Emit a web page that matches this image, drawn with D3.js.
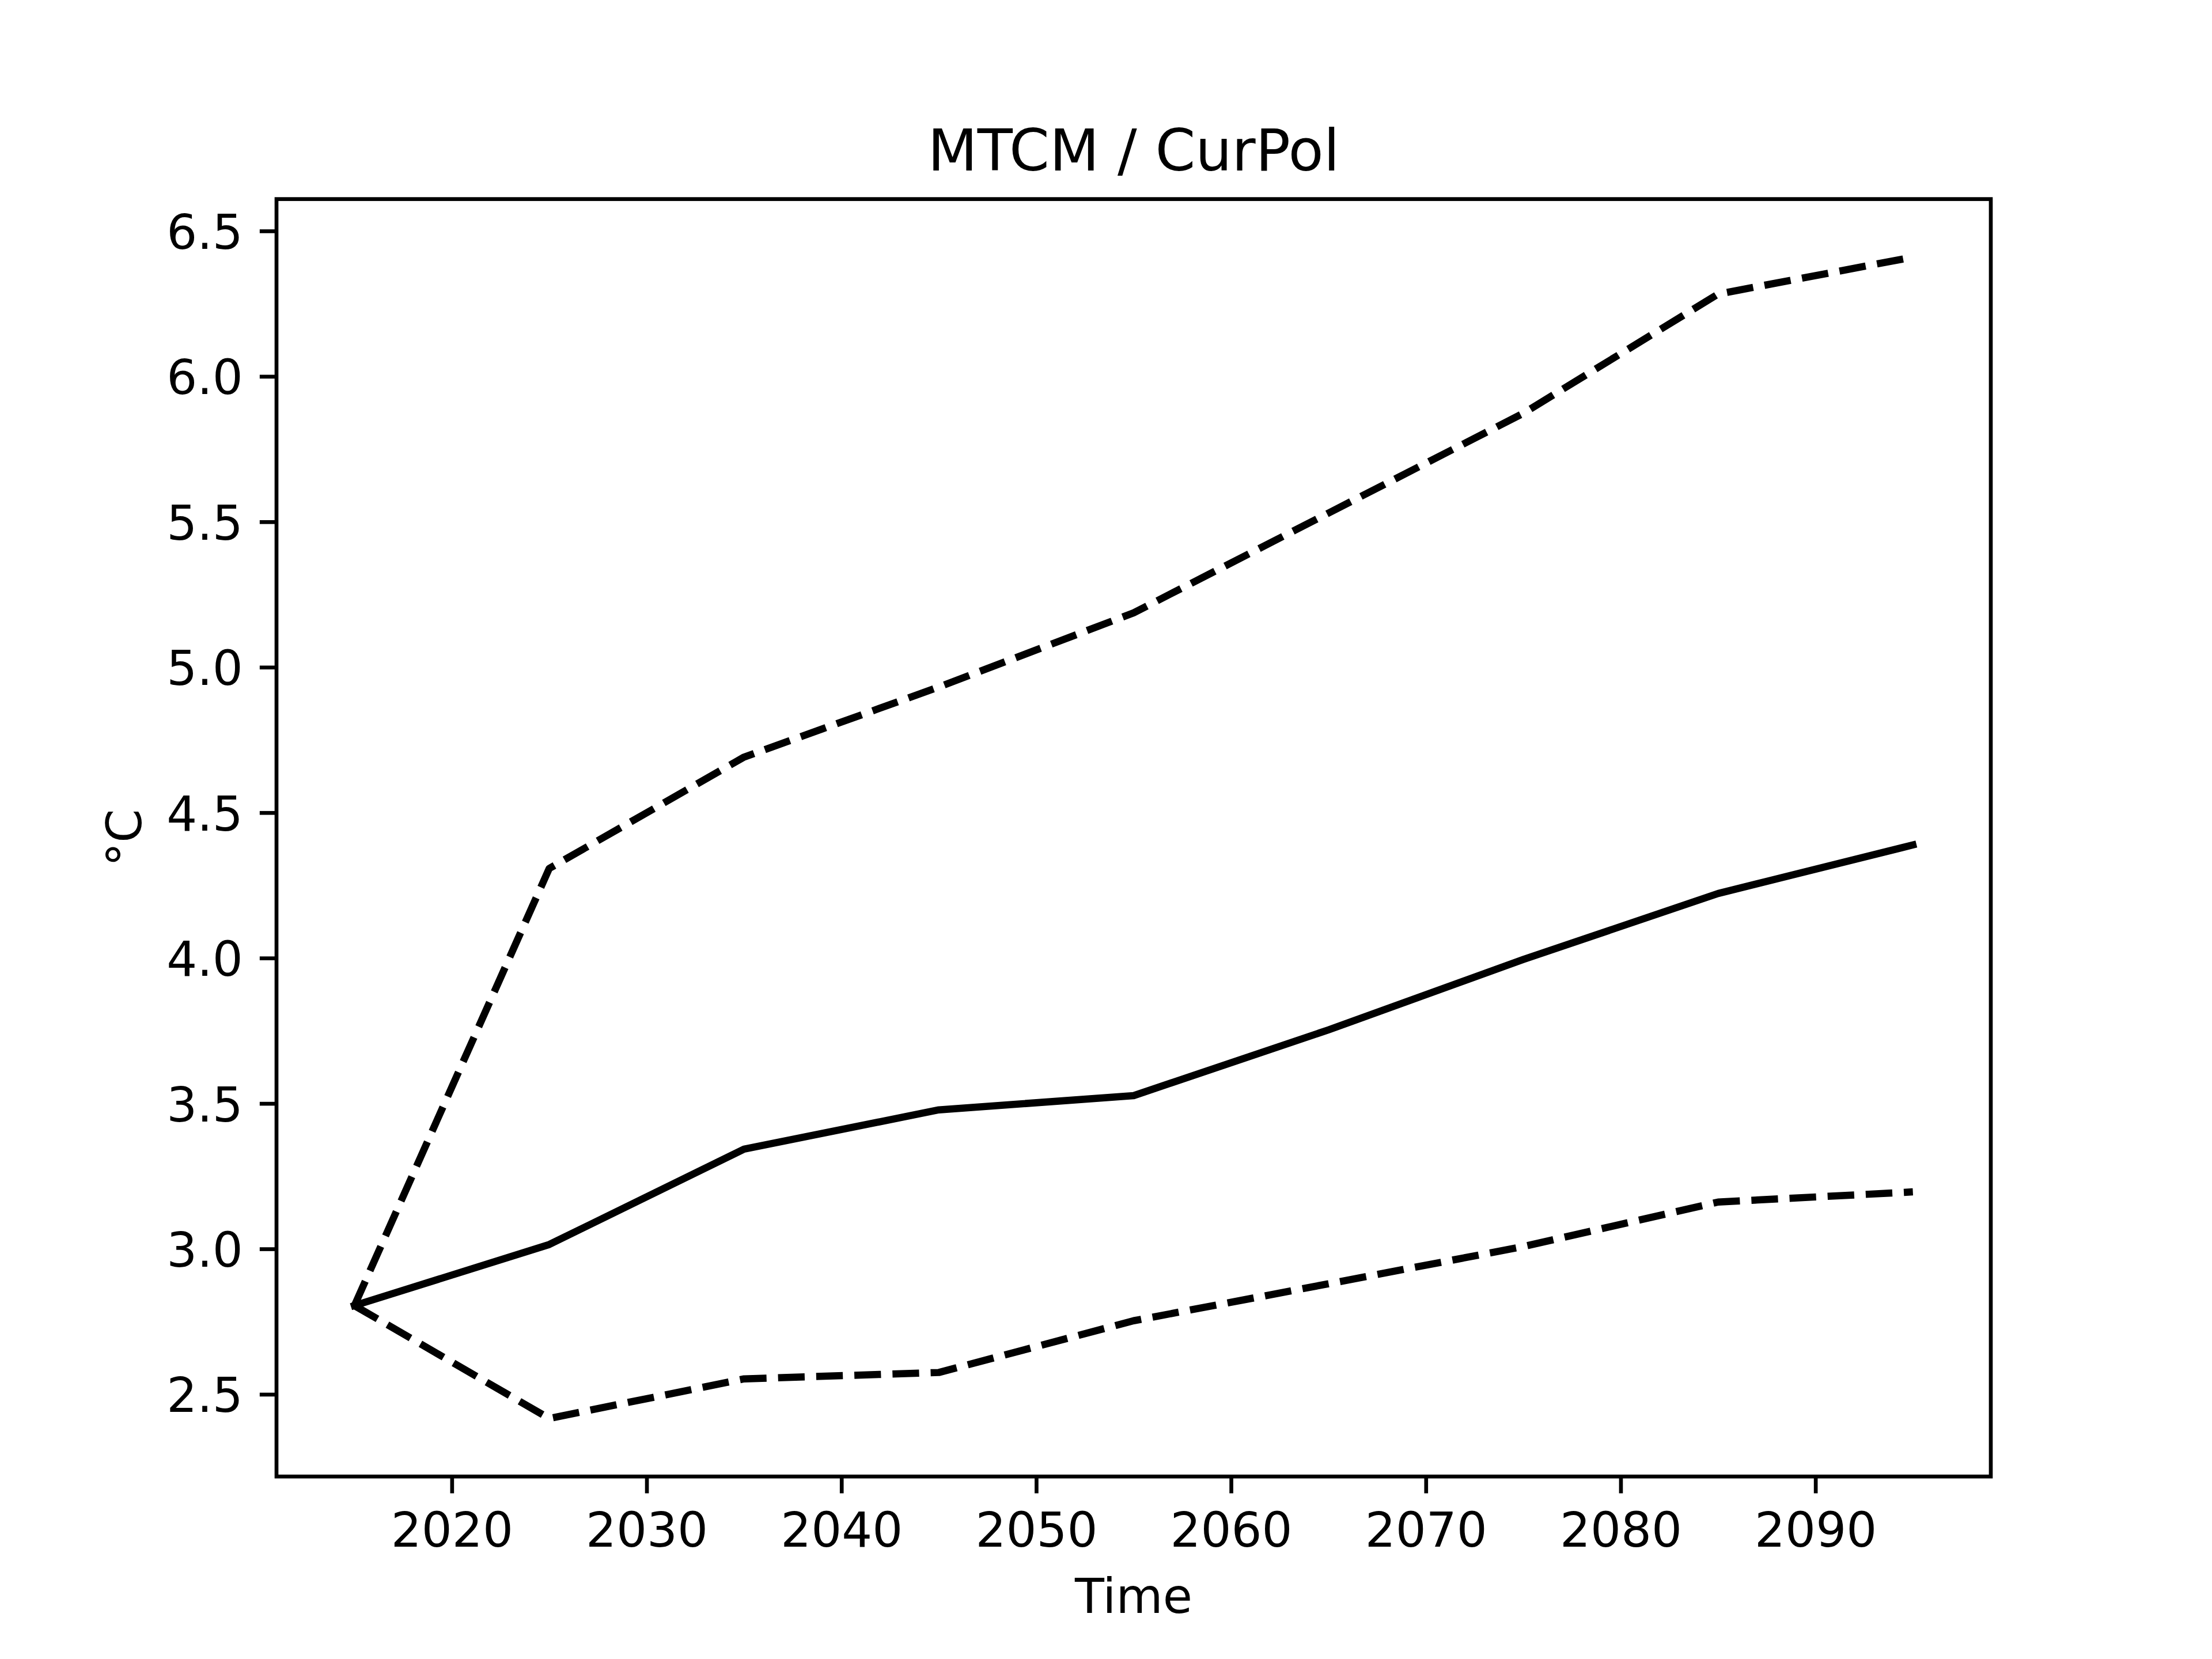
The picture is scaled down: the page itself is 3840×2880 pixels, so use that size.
<!DOCTYPE html>
<html>
<head>
<meta charset="utf-8">
<script src="https://cdn.jsdelivr.net/npm/d3@7"></script>
<style>
  html, body { margin: 0; padding: 0; background: #ffffff; }
  svg { display: block; }
  text { font-family: "DejaVu Sans", sans-serif; fill: #000; }
</style>
</head>
<body>
<svg id="chart" width="3840" height="2880"></svg>
<script>
// ---- data ----
const years = [2015, 2025, 2035, 2045, 2055, 2065, 2075, 2085, 2095];
const median = [2.805, 3.015, 3.343, 3.478, 3.527, 3.753, 3.995, 4.222, 4.389];
const upper  = [2.805, 4.308, 4.691, 4.932, 5.187, 5.530, 5.873, 6.283, 6.410];
const lower  = [2.805, 2.417, 2.553, 2.575, 2.753, 2.880, 3.008, 3.161, 3.196];
const xTicks = [2020, 2030, 2040, 2050, 2060, 2070, 2080, 2090];
const yTicks = [2.5, 3.0, 3.5, 4.0, 4.5, 5.0, 5.5, 6.0, 6.5];
const titleText = "MTCM / CurPol";
const xLabel = "Time";
const yLabel = "°C";

(function () {
// ---- layout (matplotlib default at 600 dpi) ----
const W = 3840, H = 2880;
const axLeft = 480, axRight = 3456, axTop = 345.6, axBottom = 2563.2;
const pt = 600 / 72;
const fontSize = 10 * pt;
const tickLen = 3.5 * pt;
const tickPad = 3.5 * pt;
const lw = 1.5 * pt;
const spineW = 0.8 * pt;

const svg = d3.select("#chart");
svg.append("rect").attr("x", 0).attr("y", 0).attr("width", W).attr("height", H).attr("fill", "#fff");

// scales with 5% margins (matplotlib autoscale)
const xmin = d3.min(years), xmax = d3.max(years);
const xpad = (xmax - xmin) * 0.05;
const all = median.concat(upper, lower);
const ymin = d3.min(all), ymax = d3.max(all);
const ypad = (ymax - ymin) * 0.05;
const x = d3.scaleLinear().domain([xmin - xpad, xmax + xpad]).range([axLeft, axRight]);
const y = d3.scaleLinear().domain([ymin - ypad, ymax + ypad]).range([axBottom, axTop]);

// lines
const line = d3.line().x((d, i) => x(years[i])).y(d => y(d));
const series = [
  { values: median, dash: null },
  { values: upper, dash: [3.7 * lw, 1.6 * lw] },
  { values: lower, dash: [3.7 * lw, 1.6 * lw] }
];
series.forEach(s => {
  const p = svg.append("path")
    .attr("d", line(s.values))
    .attr("fill", "none")
    .attr("stroke", "#000")
    .attr("stroke-width", lw)
    .attr("stroke-linejoin", "round");
  if (s.dash) {
    p.attr("stroke-dasharray", s.dash.join(",")).attr("stroke-linecap", "butt");
  } else {
    p.attr("stroke-linecap", "square");
  }
});

// axes
const xAxis = d3.axisBottom(x).tickValues(xTicks).tickFormat(d3.format("d"))
  .tickSizeInner(tickLen).tickSizeOuter(0).tickPadding(tickPad);
const gx = svg.append("g").attr("transform", `translate(0,${axBottom})`).call(xAxis);
gx.select(".domain").remove();
gx.selectAll(".tick line").attr("stroke", "#000").attr("stroke-width", spineW);
gx.selectAll(".tick text").attr("font-size", fontSize).attr("font-family", "DejaVu Sans")
  .attr("fill", "#000").attr("dy", "0.76em");

const yAxis = d3.axisLeft(y).tickValues(yTicks).tickFormat(d3.format(".1f"))
  .tickSizeInner(tickLen).tickSizeOuter(0).tickPadding(tickPad);
const gy = svg.append("g").attr("transform", `translate(${axLeft},0)`).call(yAxis);
gy.select(".domain").remove();
gy.selectAll(".tick line").attr("stroke", "#000").attr("stroke-width", spineW);
gy.selectAll(".tick text").attr("font-size", fontSize).attr("font-family", "DejaVu Sans")
  .attr("fill", "#000").attr("dy", "0.365em");

// spines
svg.append("rect")
  .attr("x", axLeft).attr("y", axTop)
  .attr("width", axRight - axLeft).attr("height", axBottom - axTop)
  .attr("fill", "none").attr("stroke", "#000").attr("stroke-width", spineW)
  .attr("stroke-linejoin", "miter");

// title
svg.append("text")
  .attr("x", (axLeft + axRight) / 2).attr("y", 296)
  .attr("text-anchor", "middle").attr("font-size", 12 * pt)
  .text(titleText);

// x label
svg.append("text")
  .attr("x", (axLeft + axRight) / 2).attr("y", 2800)
  .attr("text-anchor", "middle").attr("font-size", fontSize)
  .text(xLabel);

// y label
svg.append("text")
  .attr("transform", `translate(245,${(axTop + axBottom) / 2}) rotate(-90)`)
  .attr("text-anchor", "middle").attr("font-size", fontSize)
  .text(yLabel);
})();
</script>
</body>
</html>
